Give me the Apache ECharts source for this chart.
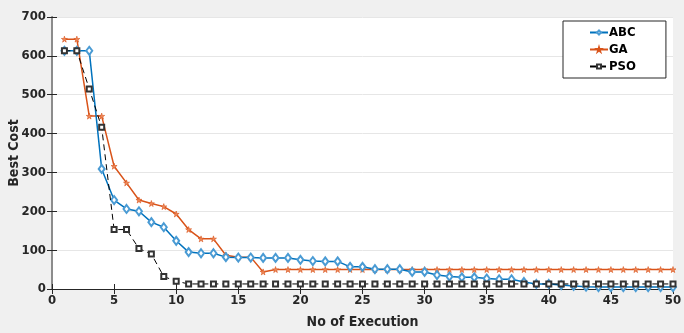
<!DOCTYPE html>
<html>
<head>
<meta charset="utf-8">
<script src="https://cdn.jsdelivr.net/npm/echarts@6/dist/echarts.min.js"></script>
<style>
  html, body { margin: 0; padding: 0; background: #f0f0f0; }
  #chart { width: 684px; height: 333px; }
</style>
</head>
<body>
<div id="chart"></div>
<script>
// iterations 1..50
const executions = Array.from({ length: 50 }, (_, i) => i + 1);

const abcCost = [
  613, 613, 613, 309, 229, 206, 200, 172, 159, 124,
  95, 92, 92, 82, 81, 81, 80, 80, 80, 75,
  72, 71, 71, 57, 57, 51, 51, 51, 44, 44,
  36, 32, 30, 30, 27, 25, 25, 18, 13, 13,
  10, 8, 6, 5, 5, 5, 5, 5, 5, 5
];

const gaCost = [
  643, 643, 445, 445, 316, 273, 229, 220, 212, 193,
  153, 129, 129, 87, 82, 82, 44, 50, 50, 50,
  50, 50, 50, 50, 50, 50, 50, 50, 50, 50,
  50, 50, 50, 50, 50, 50, 50, 50, 50, 50,
  50, 50, 50, 50, 50, 50, 50, 50, 50, 50
];

const psoCost = [
  613, 613, 515, 416, 153, 153, 104, 90, 32, 20,
  13, 13, 13, 13, 13, 13, 13, 13, 13, 13,
  13, 13, 13, 13, 13, 13, 13, 13, 13, 13,
  13, 13, 13, 13, 13, 13, 13, 13, 13, 13,
  13, 13, 13, 13, 13, 13, 13, 13, 13, 13
];

const font = "'DejaVu Sans Condensed', 'Liberation Sans Narrow', 'Liberation Sans', sans-serif";
const starPath = "path://M50,0 L61,35 L98,35 L68,57 L79,91 L50,70 L21,91 L32,57 L2,35 L39,35 Z";

const chart = echarts.init(document.getElementById("chart"));

const options = {
  backgroundColor: "#f0f0f0",
  animation: false,
  grid: {
    left: 52,
    right: 11,
    top: 17,
    bottom: 44,
    outerBoundsMode: "none",
    show: true,
    backgroundColor: "#fff",
    borderWidth: 0,
  },
  legend: {
    orient: "vertical",
    left: 563,
    top: 21,
    padding: [5, 30, 5, 26],
    itemGap: 4,
    itemWidth: 18,
    itemHeight: 5,
    backgroundColor: "#fff",
    borderColor: "#262626",
    borderWidth: 1,
    borderRadius: 0,
    textStyle: {
      fontFamily: font,
      fontWeight: "bold",
      fontSize: 13,
      color: "#000",
      padding: [0, 0, 0, -4],
    },
    data: ["ABC", "GA", "PSO"],
  },
  xAxis: [
    {
      type: "value",
      min: 0,
      max: 50,
      interval: 5,
      name: "No of Execution",
      nameLocation: "middle",
      nameGap: 26,
      nameMoveOverlap: false,
      nameTextStyle: {
        fontFamily: font,
        fontWeight: "bold",
        fontSize: 14,
        color: "#262626",
      },
      axisLine: { lineStyle: { color: "#262626", width: 1 } },
      axisTick: { inside: true, length: 5, lineStyle: { color: "#262626" } },
      axisLabel: {
        fontFamily: font,
        fontWeight: "bold",
        fontSize: 13,
        color: "#262626",
        margin: 5,
      },
      splitLine: { show: false },
    },
    {
      type: "value",
      position: "top",
      min: 0,
      max: 50,
      interval: 5,
      axisLine: { lineStyle: { color: "#262626", width: 1 } },
      axisTick: { inside: true, length: 5, lineStyle: { color: "#262626" } },
      axisLabel: { show: false },
      splitLine: { show: false },
    },
  ],
  yAxis: [
    {
      type: "value",
      min: 0,
      max: 700,
      interval: 100,
      name: "Best Cost",
      nameLocation: "middle",
      nameGap: 31,
      nameMoveOverlap: false,
      nameTextStyle: {
        fontFamily: font,
        fontWeight: "bold",
        fontSize: 14,
        color: "#262626",
      },
      axisLine: { show: true, lineStyle: { color: "#262626", width: 1 } },
      axisTick: { show: true, inside: true, length: 5, lineStyle: { color: "#262626" } },
      axisLabel: {
        fontFamily: font,
        fontWeight: "bold",
        fontSize: 13,
        color: "#262626",
        margin: 6,
      },
      splitLine: { show: true, lineStyle: { color: "#e6e6e6", width: 1 } },
    },
    {
      type: "value",
      position: "right",
      min: 0,
      max: 700,
      interval: 100,
      axisLine: { show: true, lineStyle: { color: "#8c8c8c", width: 2 } },
      axisTick: { show: true, inside: true, length: 5, lineStyle: { color: "#262626" } },
      axisLabel: { show: false },
      splitLine: { show: false },
    },
  ],
  series: [
    {
      name: "ABC",
      type: "line",
      data: executions.map((x, i) => [x, abcCost[i]]),
      symbol: "emptyDiamond",
      symbolSize: [6, 8],
      lineStyle: { color: "#0072bd", width: 1.5 },
      itemStyle: { color: "#4a9bd4", borderColor: "#4a9bd4", borderWidth: 1 },
      z: 3,
    },
    {
      name: "GA",
      type: "line",
      data: executions.map((x, i) => [x, gaCost[i]]),
      symbol: starPath,
      symbolSize: 6,
      lineStyle: { color: "#d95319", width: 1.5 },
      itemStyle: { color: "#ee8a5c", borderColor: "#d95319", borderWidth: 0.6 },
      z: 2,
    },
    {
      name: "PSO",
      type: "line",
      data: executions.map((x, i) => [x, psoCost[i]]),
      symbol: "emptyRect",
      symbolSize: 5,
      lineStyle: { color: "#000", width: 1, type: [6, 4] },
      itemStyle: { color: "#333", borderColor: "#333", borderWidth: 0.8 },
      z: 4,
    },
  ],
};

chart.setOption(options);
</script>
</body>
</html>
